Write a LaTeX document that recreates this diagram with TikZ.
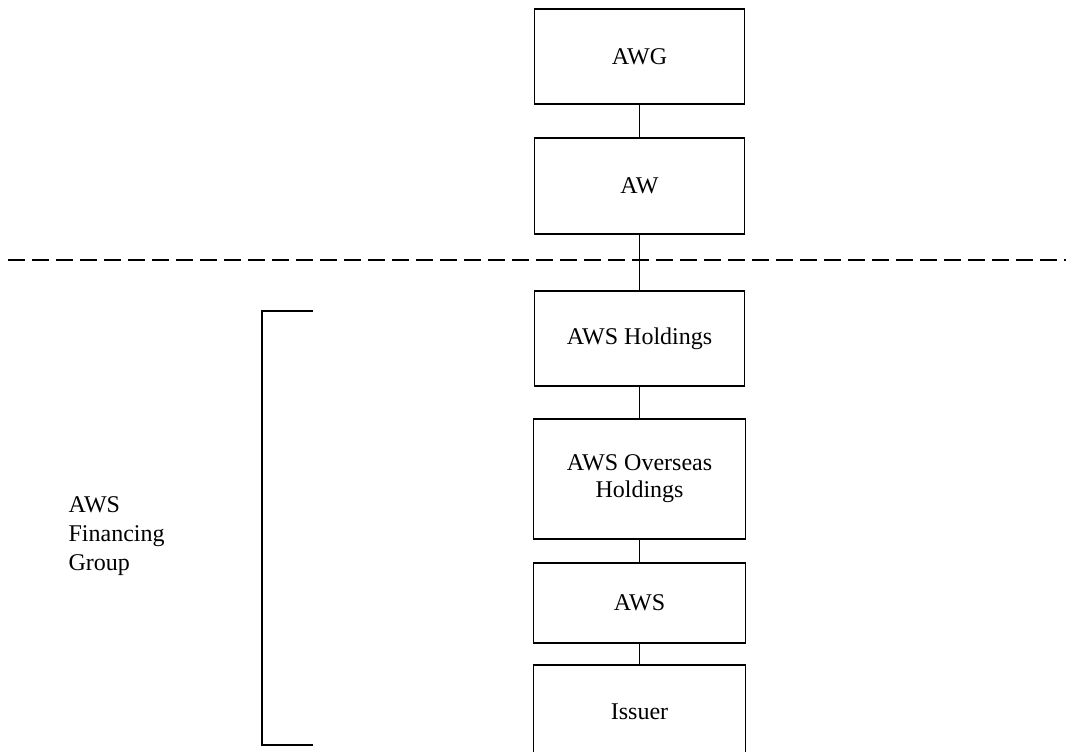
\documentclass[tikz,border=0pt]{standalone}
\usepackage{fontspec}
\setmainfont{Liberation Serif}

\begin{document}
\begin{tikzpicture}[x=0.5pt,y=-0.5pt,line width=0.65pt,
    ent/.style={draw,minimum width=105pt,inner sep=0pt,align=center,
        font=\fontsize{12}{13.5}\selectfont}]
\useasboundingbox (0,0) rectangle (1066,751);
\clip (0,0) rectangle (1066,751);
% the chain of companies
\node [ent,minimum height=47.5pt] (awg)    at (639.5, 56.5) {AWG};
\node [ent,minimum height=48pt]   (aw)     at (639.5,186)   {AW};
\node [ent,minimum height=47.5pt] (awsh)   at (639.5,338.5) {AWS Holdings};
\node [ent,minimum width=106pt,minimum height=60pt]
                                  (awsoh)  at (639.5,479)   {AWS Overseas\\Holdings};
\node [ent,minimum width=106pt,minimum height=40pt]
                                  (aws)    at (639.5,603)   {AWS};
\node [ent,minimum width=106pt,minimum height=47pt]
                                  (issuer) at (639.5,712)   {Issuer};
\draw (awg) -- (aw) -- (awsh) -- (awsoh) -- (aws) -- (issuer);
% dividing line
\coordinate (dl) at (8,260);
\coordinate (dr) at (1066,260);
\draw [dash pattern=on 8.5pt off 3.5pt] (dl) -- (dr);
% financing group bracket
\coordinate (bt) at (313,311);
\coordinate (bb) at (313,745);
\draw (bt) -- (262,311) -- (262,745) -- (bb);
\node [anchor=west,align=left,inner sep=0pt,
       font=\fontsize{12}{14.5}\selectfont] (grp) at (68,536)
    {AWS\\Financing\\Group};
\end{tikzpicture}
\end{document}
